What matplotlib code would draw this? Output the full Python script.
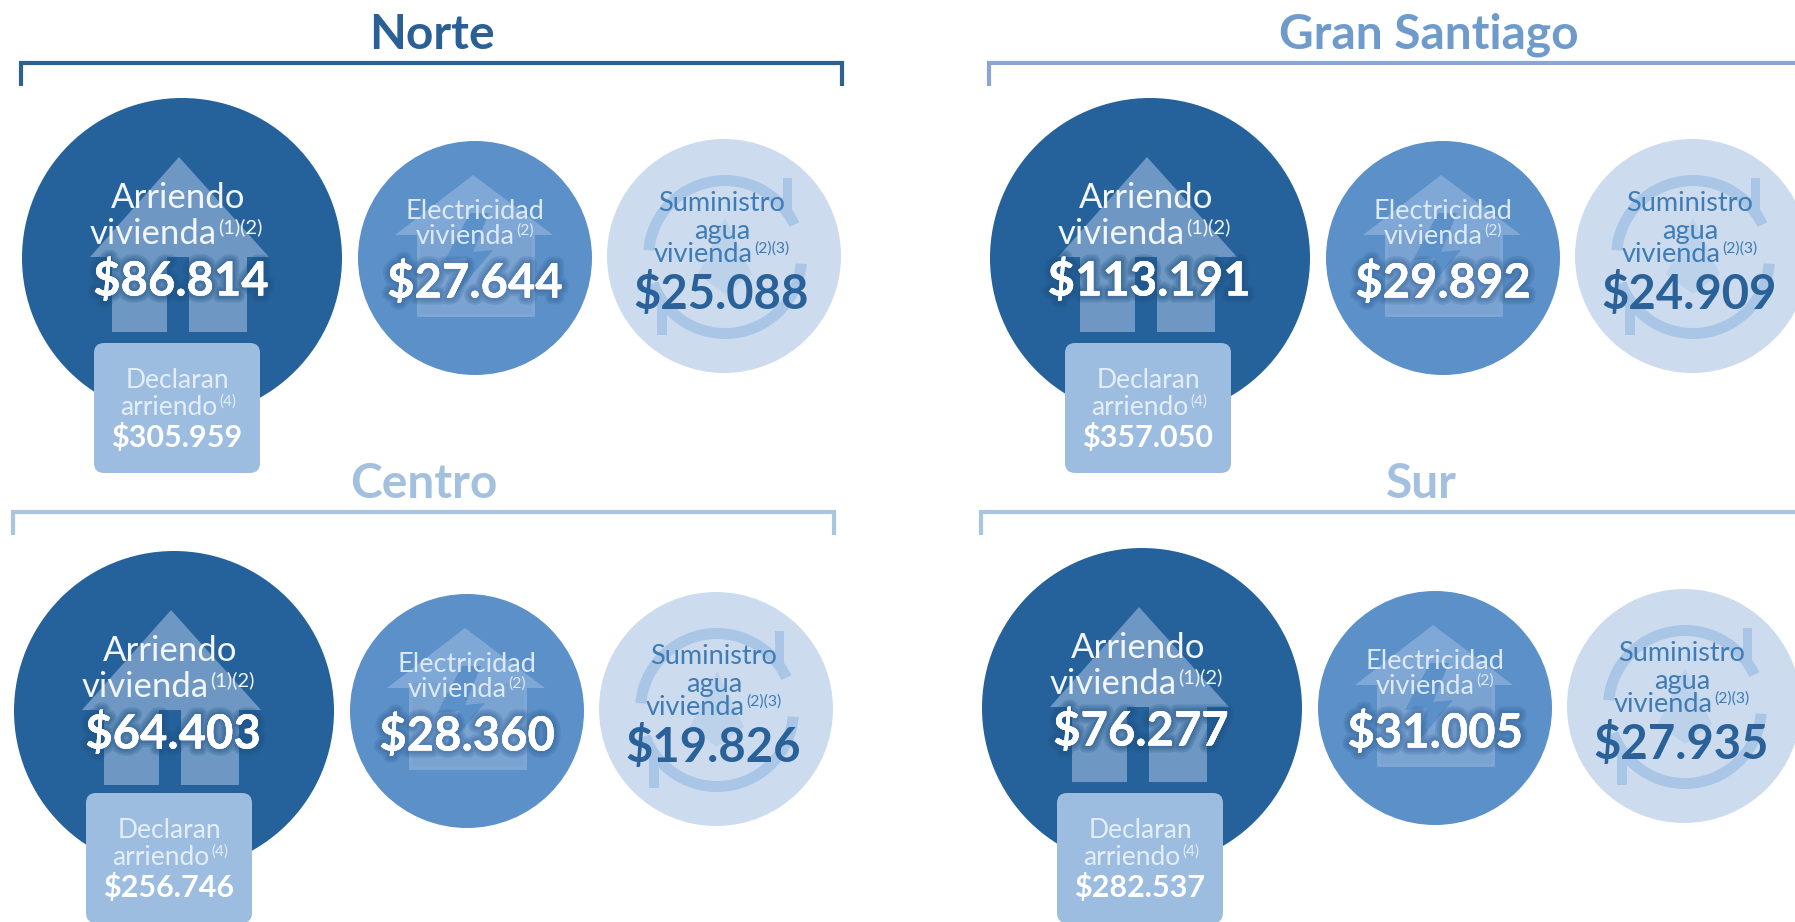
import matplotlib
matplotlib.use('Agg')
import matplotlib.pyplot as plt
import matplotlib.patheffects as pe
from matplotlib.patches import Circle, Polygon, Rectangle, Wedge, FancyBboxPatch

plt.rcParams['font.family'] = ['Lato', 'DejaVu Sans']

# data
regiones = ['Norte', 'Gran Santiago', 'Centro', 'Sur']
arriendo = ['$86.814', '$113.191', '$64.403', '$76.277']
electricidad = ['$27.644', '$29.892', '$28.360', '$31.005']
agua = ['$25.088', '$24.909', '$19.826', '$27.935']
declaran = ['$305.959', '$357.050', '$256.746', '$282.537']

# layout of each panel, in pixels
dx = [0, 968, -8, 960]
dy = [0, 0, 453, 450]
box_dx = [0, 971, -8, 963]
box_dy = [0, 0, 450, 450]
line_dy = [0, 0, 449, 449]
title_pos = [(432, 35), (1429, 35), (424, 484), (1421, 484)]
title_col = ['#2A6096', '#6E9BCC', '#A3C0DF', '#A3C0DF']
line_col = ['#2F6190', '#8BA6D0', '#A9C5DF', '#A9C5DF']

OSCURO = '#25619A'
MEDIO = '#5C90C8'
CLARO = '#CCDCEE'
CAJA = '#9DBDE0'


def esc(s):
    return s.replace('$', r'\$')


def glow(color, alpha):
    return [pe.withStroke(linewidth=w, foreground=color, alpha=alpha) for w in (10, 7, 4)] + [pe.Normal()]


def con_nota(ax, x, y, nota, fs, color, z, shift):
    # palabra vivienda/arriendo con su nota arriba, todo centrado en x
    word = 'arriendo' if nota == '(4)' else 'vivienda'
    t = ax.text(x - shift, y, word, fontsize=fs, color=color, ha='center', va='center', zorder=z)
    ax.annotate(nota, xy=(1, 0.72), xycoords=t, xytext=(1, 0), textcoords='offset points',
                fontsize=fs * 0.58, color=color, ha='left', va='center', zorder=z)


def casa_grande(ax, x, y):
    c = '#6E98C3'
    ax.add_patch(Polygon([(x - 3, y - 101), (x - 92, y - 1), (x + 87, y - 1)], fc=c, ec='none', zorder=2))
    ax.add_patch(Rectangle((x - 70, y - 1), 55, 75, fc=c, ec='none', zorder=2))
    ax.add_patch(Rectangle((x + 7, y - 1), 58, 75, fc=c, ec='none', zorder=2))


def casa_media(ax, x, y):
    c = '#80A8D6'
    ax.add_patch(Polygon([(x - 2, y - 83), (x - 80, y - 23), (x + 78, y - 23)], fc=c, ec='none', zorder=2))
    ax.add_patch(Rectangle((x - 57, y - 30), 115, 87, fc='#7AA3D2', ec=c, lw=2, zorder=2))
    ax.add_patch(Polygon([(x - 5, y - 45), (x - 30, y + 2), (x - 8, y), (x - 22, y + 40),
                          (x + 18, y - 8), (x - 2, y - 6), (x + 14, y - 45)],
                         fc='#5C90C8', ec='none', zorder=2))


def ciclo_agua(ax, x, y):
    c = '#A9C6E6'
    ax.add_patch(Wedge((x + 1, y + 1), 82, 185, 335, width=11, fc=c, ec='none', zorder=2))
    ax.add_patch(Wedge((x + 1, y + 1), 82, 5, 160, width=11, fc=c, ec='none', zorder=2))
    ax.add_patch(Rectangle((x + 59, y - 78), 9, 34, fc=c, ec='none', zorder=2))
    ax.add_patch(Rectangle((x - 67, y + 49), 10, 30, fc=c, ec='none', zorder=2))
    ax.add_patch(Polygon([(x + 1, y - 38), (x - 26, y + 18), (x + 1, y + 38), (x + 28, y + 18)],
                         fc='#BBD2EA', ec='none', zorder=2))


fig = plt.figure(figsize=(17.95, 9.22), dpi=100)
ax = fig.add_axes([0, 0, 1, 1])
ax.set_xlim(0, 1795)
ax.set_ylim(922, 0)
ax.axis('off')

for i, reg in enumerate(regiones):
    ox, oy = dx[i], dy[i]

    # titulo y corchete
    ax.text(title_pos[i][0], title_pos[i][1], reg, fontsize=34.5, fontweight='bold',
            color=title_col[i], ha='center', va='center')
    ly = line_dy[i]
    ax.plot([21 + ox, 21 + ox, 842 + ox, 842 + ox], [86 + ly, 63 + ly, 63 + ly, 86 + ly],
            color=line_col[i], lw=3, solid_joinstyle='miter', solid_capstyle='butt')

    # arriendo
    cx, cy = 182 + ox, 258 + oy
    ax.add_patch(Circle((cx, cy), 160, fc=OSCURO, ec='none', zorder=1))
    casa_grande(ax, cx, cy)
    ax.text(cx - 4, cy - 60, 'Arriendo', fontsize=25, color='#F2F6FB', ha='center', va='center', zorder=4)
    con_nota(ax, cx - 4, cy - 24, '(1)(2)', 25, '#F2F6FB', 4, 25)
    ax.text(cx - 1, cy + 23, esc(arriendo[i]), fontsize=34, fontweight='bold', color='white',
            ha='center', va='center', zorder=4, path_effects=glow('#1D4E80', 0.2))

    # electricidad
    ex, ey = 475 + ox, 258 + oy
    ax.add_patch(Circle((ex, ey), 117, fc=MEDIO, ec='none', zorder=1))
    casa_media(ax, ex, ey)
    ax.text(ex, ey - 47, 'Electricidad', fontsize=19.5, color='#DCE9F6', ha='center', va='center', zorder=4)
    con_nota(ax, ex, ey - 22, '(2)', 19.5, '#DCE9F6', 4, 10)
    ax.text(ex, ey + 25, esc(electricidad[i]), fontsize=34, fontweight='bold', color='white',
            ha='center', va='center', zorder=4, path_effects=glow('#2F5F94', 0.2))

    # agua
    ax_, ay = 724 + ox, 256 + oy
    ax.add_patch(Circle((ax_, ay), 117, fc=CLARO, ec='none', zorder=1))
    ciclo_agua(ax, ax_, ay)
    ax.text(ax_ - 2, ay - 53, 'Suministro', fontsize=19.5, color='#3F7BB5', ha='center', va='center', zorder=4)
    ax.text(ax_ - 2, ay - 25, 'agua', fontsize=19.5, color='#3F7BB5', ha='center', va='center', zorder=4)
    con_nota(ax, ax_ - 2, ay - 2, '(2)(3)', 19.5, '#3F7BB5', 4, 19)
    ax.text(ax_ - 3, ay + 38, esc(agua[i]), fontsize=34, fontweight='bold', color='#2A6198',
            ha='center', va='center', zorder=4)

    # caja declaran arriendo
    bxo, by = box_dx[i], box_dy[i]
    ax.add_patch(FancyBboxPatch((94 + bxo + 8, 343 + by + 8), 166 - 16, 130 - 16,
                                boxstyle='round,pad=8,rounding_size=10', fc=CAJA, ec='none', zorder=5))
    bx = 177 + bxo
    ax.text(bx, 380 + by, 'Declaran', fontsize=19, color='#E4EEF8', ha='center', va='center', zorder=6)
    con_nota(ax, bx, 407 + by, '(4)', 19, '#E4EEF8', 6, 8)
    ax.text(bx, 437 + by, esc(declaran[i]), fontsize=22, fontweight='bold', color='white',
            ha='center', va='center', zorder=6)

fig.savefig('out.png', dpi=100)
plt.close()
